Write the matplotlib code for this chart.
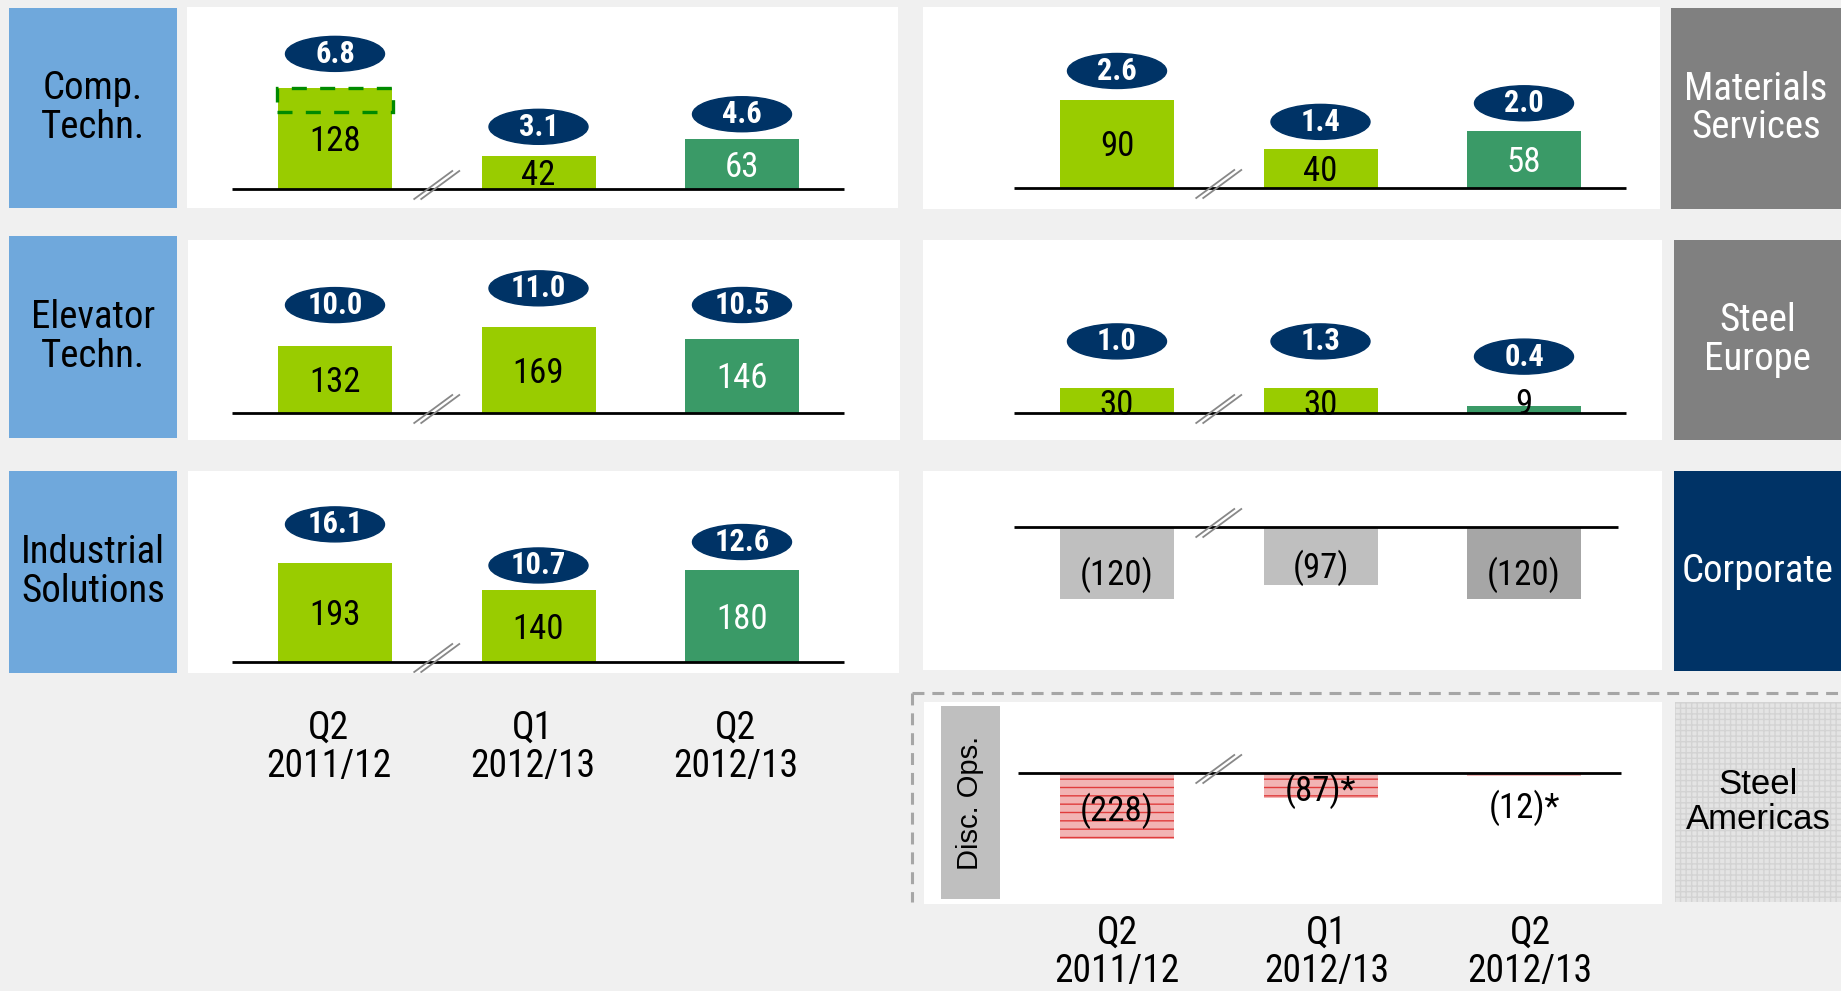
import matplotlib.pyplot as plt
import matplotlib.transforms as mtransforms
from matplotlib import font_manager
from matplotlib.lines import Line2D
from matplotlib.patches import Ellipse, Rectangle

W, H = 1841, 991
BG = "#F0F0F0"
LIME = "#99CC00"
DKGREEN = "#3A9A67"
NAVY = "#003366"
SKY = "#6FA8DC"
GREY = "#808080"
PINK = "#F2B4B4"

# data
periods = ["Q2\n2011/12", "Q1\n2012/13", "Q2\n2012/13"]

comp_techn = [128, 42, 63]
comp_techn_pct = [6.8, 3.1, 4.6]
comp_techn_dashed = 30  # dashed top slice of the Q2 2011/12 bar
elevator = [132, 169, 146]
elevator_pct = [10.0, 11.0, 10.5]
industrial = [193, 140, 180]
industrial_pct = [16.1, 10.7, 12.6]

materials = [90, 40, 58]
materials_pct = [2.6, 1.4, 2.0]
steel_europe = [30, 30, 9]
steel_europe_pct = [1.0, 1.3, 0.4]
corporate = [-120, -97, -120]
disc_ops = [-228, -87, -12]
disc_ops_labels = ["(228)", "(87)*", "(12)*"]


# pick a condensed sans if one is installed
def _is_narrow(f):
    s = f.stretch
    if isinstance(s, str):
        return "condensed" in s or "narrow" in f.name.lower()
    return s < 500


narrow = {f.name for f in font_manager.fontManager.ttflist if _is_narrow(f)}
FONT, SC = "Liberation Sans", 0.88
for pref in ["Liberation Sans Narrow", "Roboto Condensed", "DejaVu Sans", "Noto Sans",
             "Open Sans", "Roboto"]:
    if pref in narrow:
        FONT, SC = pref, 1.0
        break

plt.rcParams["font.family"] = [FONT, "DejaVu Sans"]
plt.rcParams["font.stretch"] = "condensed"

fig = plt.figure(figsize=(W / 100, H / 100), dpi=100, facecolor=BG)


def px_axes(x0, y0, x1, y1, color):
    ax = fig.add_axes([x0 / W, 1 - y1 / H, (x1 - x0) / W, (y1 - y0) / H])
    ax.set_facecolor(color)
    ax.set_xticks([])
    ax.set_yticks([])
    for s in ax.spines.values():
        s.set_visible(False)
    return ax


def label_box(rect, text, color, txtcolor="black", **kw):
    ax = px_axes(*rect, color)
    ax.text(0.5, 0.5, text, ha="center", va="center", color=txtcolor,
            fontsize=28 * SC, linespacing=1.05, transform=ax.transAxes, **kw)
    return ax


def fmt(v):
    return str(v) if v >= 0 else f"({-v})"


def bar_panel(rect, base, ppu, xc0, line, values, colors, labels=None,
              pcts=None, ell_off=(32, 32, 32), label_dy=0, **barkw):
    x0, y0, x1, y1 = rect
    step = 203.5
    ax = px_axes(*rect, "white")
    ax.set_xlim((x0 - xc0) / step, (x1 - xc0) / step)
    ax.set_ylim((base - y1) / ppu, (base - y0) / ppu)
    xs = list(range(len(values)))
    ax.bar(xs, values, width=114 / step, color=colors, zorder=2, **barkw)
    ax.plot([(line[0] - xc0) / step, (line[1] - xc0) / step], [0, 0],
            color="black", lw=2, zorder=3, solid_capstyle="butt")

    # axis break marks between first and second period
    for d in (-3.5, 3.5):
        ax.plot([0.5 + (d - 19) / step, 0.5 + (d + 19) / step],
                [(4 - 14) / ppu, (4 + 14) / ppu], color="#888888", lw=1.3, zorder=4)

    if labels is None:
        labels = [fmt(v) for v in values]
    for i, v in enumerate(values):
        h = abs(v) * ppu
        if h < 10:
            ty = (14 if v > 0 else -30) / ppu
        else:
            ty = v / 2
        ty -= (3 - label_dy) / ppu
        tc = "white" if (colors[i] == DKGREEN and h >= 10) else "black"
        ax.text(i, ty, labels[i], ha="center", va="center", fontsize=25 * SC,
                color=tc, zorder=5)

    if pcts is not None:
        for i, (v, p) in enumerate(zip(values, pcts)):
            cy = v + ell_off[i] / ppu
            ax.add_patch(Ellipse((i, cy), 99 / step, 35 / ppu, color=NAVY, zorder=4))
            ax.text(i, cy, f"{p:.1f}", ha="center", va="center", fontsize=22 * SC,
                    fontweight="bold", color="white", zorder=5)
    return ax, step, ppu


row_cols = [LIME, LIME, DKGREEN]

# left column
label_box((9, 8, 177, 208), "Comp.\nTechn.", SKY)
label_box((9, 236, 177, 438), "Elevator\nTechn.", SKY)
label_box((9, 471, 177, 673), "Industrial\nSolutions", SKY)

ax, step, ppu = bar_panel((187, 7, 898, 208), 189, 0.79, 335, (232, 844),
                          comp_techn, row_cols, pcts=comp_techn_pct, ell_off=(34, 29, 25))
ax.add_patch(Rectangle((-116 / step / 2, comp_techn[0] - comp_techn_dashed), 116 / step,
                       comp_techn_dashed, fill=False, edgecolor="#008A00", lw=2.4,
                       ls=(0, (4.5, 4.0)), zorder=3))
bar_panel((188, 240, 900, 440), 413, 0.507, 335, (232, 844),
          elevator, row_cols, pcts=elevator_pct, ell_off=(41, 39, 34))
ax_l3, _, _ = bar_panel((188, 471, 899, 673), 662, 0.511, 335, (232, 844),
                        industrial, row_cols, pcts=industrial_pct, ell_off=(39, 25, 28))

trans = mtransforms.blended_transform_factory(ax_l3.transData, fig.transFigure)
for i, p in enumerate(periods):
    ax_l3.text(i - 0.03, 1 - 747 / H, p, transform=trans, ha="center", va="center",
               fontsize=27 * SC, linespacing=1.05)

# right column
bar_panel((923, 7, 1660, 209), 188, 0.978, 1117, (1014, 1626),
          materials, row_cols, pcts=materials_pct, ell_off=(29, 27, 28))
bar_panel((923, 240, 1662, 440), 413, 0.82, 1117, (1014, 1626),
          steel_europe, row_cols, pcts=steel_europe_pct, ell_off=(47, 47, 49), label_dy=-2)
bar_panel((923, 471, 1662, 670), 527, 0.597, 1117, (1014, 1618),
          corporate, ["#BFBFBF", "#BFBFBF", "#A6A6A6"], label_dy=-9)
ax_r4, _, _ = bar_panel((924, 702, 1662, 904), 773, 0.288, 1117, (1018, 1621),
                        disc_ops, [PINK] * 3, labels=disc_ops_labels, label_dy=-2,
                        hatch="--", edgecolor="#E03C3C", linewidth=0)

trans = mtransforms.blended_transform_factory(ax_r4.transData, fig.transFigure)
for i, p in enumerate(periods):
    ax_r4.text(i + 0.03 * (i > 0), 1 - 952 / H, p, transform=trans, ha="center",
               va="center", fontsize=27 * SC, linespacing=1.05)

disc = px_axes(941, 706, 1000, 899, "#BFBFBF")
disc.text(0.5, 0.5, "Disc. Ops.", rotation=90, ha="center", va="center", fontsize=21,
          family=["Liberation Sans", "DejaVu Sans"], fontstretch="normal",
          transform=disc.transAxes)

label_box((1671, 8, 1841, 209), "Materials\nServices", GREY, "white")
label_box((1674, 240, 1841, 440), "Steel\nEurope", GREY, "white")
label_box((1674, 471, 1841, 671), "Corporate", NAVY, "white")
sa = px_axes(1675, 702, 1841, 902, "#E4E4E4")
sa.add_patch(Rectangle((0, 0), 1, 1, transform=sa.transAxes, facecolor="none",
                       edgecolor="#D3D3D3", hatch="+++", lw=0))
sa.text(0.5, 0.5, "Steel\nAmericas", ha="center", va="center", fontsize=25,
        linespacing=1.1, family=["Liberation Sans", "DejaVu Sans"], fontstretch="normal",
        transform=sa.transAxes)

# dashed frame around discontinued operations
dash = dict(color="#A6A6A6", lw=2.2, ls=(0, (3.9, 2.6)))
fig.add_artist(Line2D([912 / W, 1], [1 - 693 / H] * 2, **dash))
fig.add_artist(Line2D([912 / W] * 2, [1 - 693 / H, 1 - 902 / H], **dash))

fig.savefig("out.png", dpi=100, facecolor=BG)
